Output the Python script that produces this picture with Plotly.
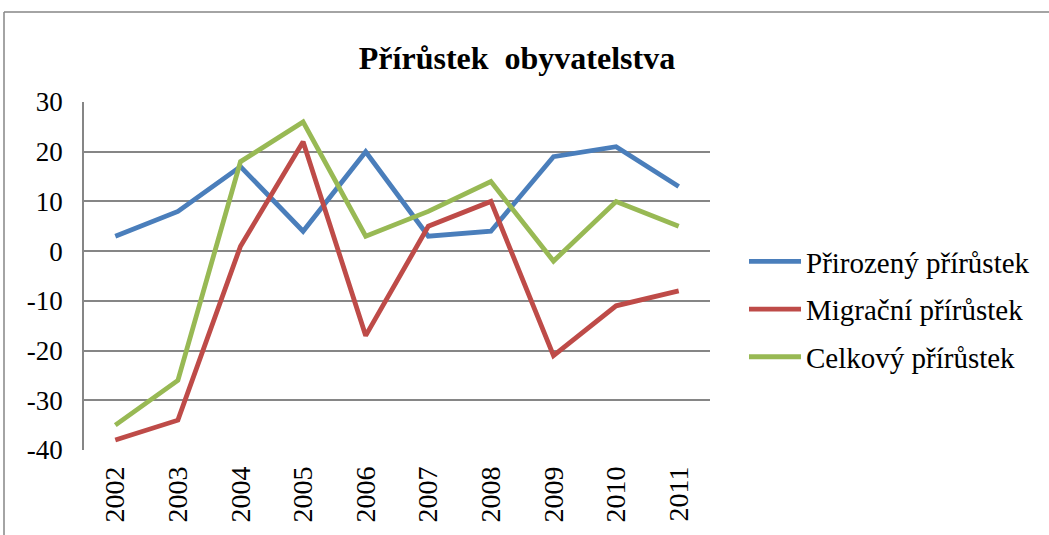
import plotly.graph_objects as go

years = ["2002", "2003", "2004", "2005", "2006", "2007", "2008", "2009", "2010", "2011"]
prirozeny = [3, 8, 17, 4, 20, 3, 4, 19, 21, 13]
migracni = [-38, -34, 1, 22, -17, 5, 10, -21, -11, -8]
celkovy = [-35, -26, 18, 26, 3, 8, 14, -2, 10, 5]

names = ["Přirozený přírůstek", "Migrační přírůstek", "Celkový přírůstek"]
colors = ["#4a7ebb", "#be4b48", "#98b954"]
series = [prirozeny, migracni, celkovy]

y_ticks = [-40, -30, -20, -10, 0, 10, 20, 30]
y_tick_labels = ["-40", "-30", "-20", "-10", "0", "10", "20", "30"]

FONT = "Liberation Serif, Times New Roman, serif"

fig = go.Figure()
for i, (n, c, s) in enumerate(zip(names, colors, series)):
    fig.add_trace(go.Scatter(x=years, y=s, name=n, mode="lines",
                             line=dict(color=c, width=4.8),
                             legendgroup=str(i)))

L, R, T, B = 84, 339, 102, 85
W, H = 1049, 535
pw, ph = W - L - R, H - T - B

def px_x(p):
    return (p - L) / pw

def px_y(p):
    return (H - B - p) / ph

fig.update_layout(
    width=W, height=H,
    margin=dict(l=L, r=R, t=T, b=B),
    paper_bgcolor="white", plot_bgcolor="white",
    font=dict(family=FONT, size=27, color="black"),
    title=dict(text="<b>Přírůstek  obyvatelstva</b>", x=517 / W, xanchor="center",
               y=1 - 58 / H, yanchor="middle", yref="container", xref="container",
               font=dict(family=FONT, size=32, color="black")),
    xaxis=dict(type="category", tickangle=-90, showgrid=False,
               showline=False, ticks="", range=[-0.5, 9.5],
               tickfont=dict(family=FONT, size=28), ticklabelstandoff=10),
    yaxis=dict(range=[-40, 30], tickvals=y_ticks, ticktext=y_tick_labels,
               showgrid=True, gridcolor="#868686",
               gridwidth=1.8, zeroline=False, showline=True, linecolor="#868686",
               linewidth=1.8, ticks="", tickfont=dict(family=FONT, size=27),
               ticklabelstandoff=14),
    legend=dict(x=px_x(744), xanchor="left", y=px_y(236), yanchor="top",
                font=dict(family=FONT, size=29), tracegroupgap=7,
                bgcolor="rgba(0,0,0,0)", itemwidth=52),
    showlegend=True,
)

# outer chart border (left and top edges visible)
fig.add_shape(type="line", xref="paper", yref="paper",
              x0=px_x(4), x1=px_x(4), y0=px_y(12), y1=px_y(540),
              line=dict(color="#868686", width=1.5))
fig.add_shape(type="line", xref="paper", yref="paper",
              x0=px_x(4), x1=px_x(1055), y0=px_y(12), y1=px_y(12),
              line=dict(color="#868686", width=1.5))

fig.write_html("out.html", config={"displayModeBar": False},
               post_script="document.body.style.margin='0';document.body.style.overflow='hidden';")
